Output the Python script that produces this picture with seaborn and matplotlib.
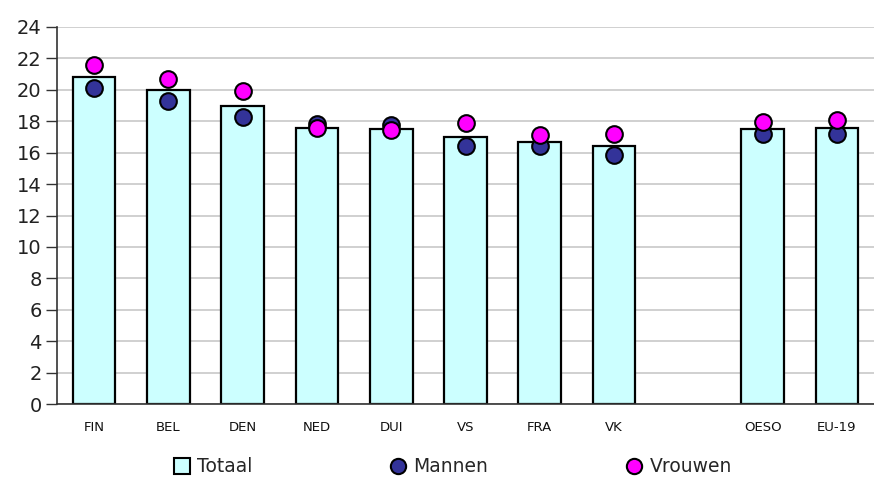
import matplotlib
matplotlib.use("Agg")
import matplotlib.pyplot as plt
from matplotlib.lines import Line2D
import seaborn as sns
import pandas as pd
import numpy as np

categories = ["FIN", "BEL", "DEN", "NED", "DUI", "VS", "FRA", "VK", " ", "OESO", "EU-19"]
totaal  = [20.8, 20.0, 19.0, 17.6, 17.5, 17.0, 16.65, 16.4, np.nan, 17.5, 17.6]
mannen  = [20.1, 19.3, 18.3, 17.85, 17.75, 16.45, 16.45, 15.85, np.nan, 17.2, 17.2]
vrouwen = [21.6, 20.7, 19.9, 17.55, 17.45, 17.9, 17.15, 17.2, np.nan, 17.95, 18.1]

df = pd.DataFrame({"cat": categories, "Totaal": totaal, "Mannen": mannen, "Vrouwen": vrouwen})
dfv = df.dropna()

sns.set_style("white")
plt.rcParams["font.family"] = ["DejaVu Sans"]

fig = plt.figure(figsize=(8.74, 4.82), dpi=100)
ax = fig.add_axes([57 / 874, 78 / 482, 1 - 57 / 874, 377 / 482])

sns.barplot(data=dfv, x="cat", y="Totaal", order=categories, color="#CCFFFF",
            edgecolor="black", linewidth=1.6, width=0.575, saturation=1, ax=ax, zorder=2)
sns.stripplot(data=dfv, x="cat", y="Mannen", order=categories, jitter=False, color="#333399",
              size=12, edgecolor="black", linewidth=1.5, ax=ax, zorder=3)
sns.stripplot(data=dfv, x="cat", y="Vrouwen", order=categories, jitter=False, color="#FF00FF",
              size=12, edgecolor="black", linewidth=1.5, ax=ax, zorder=4)

ax.set_ylim(0, 24)
ax.set_xlim(-0.5, (874 - 94) / 74.9)
ax.set_yticks(range(0, 25, 2))
ax.set_yticklabels([str(v) for v in range(0, 25, 2)], fontsize=14, color="#222222")
ax.yaxis.grid(True, color="#c8c8c8", linewidth=1.2, zorder=0)
ax.set_axisbelow(True)

ax.set_xticks(range(len(categories)))
ax.set_xticklabels(categories, fontsize=9.5, color="#111111")
ax.set_xticks(np.arange(-0.5, len(categories), 1.0), minor=True)
ax.tick_params(axis="x", which="major", length=0, pad=12)
ax.tick_params(axis="x", which="minor", length=5, width=1, color="#333333", direction="out")
ax.tick_params(axis="y", which="major", length=8, width=1, color="#333333", direction="out", left=True, pad=3)
ax.set_xlabel("")
ax.set_ylabel("")

for s in ["top", "right"]:
    ax.spines[s].set_visible(False)
ax.spines["left"].set_color("#333333")
ax.spines["bottom"].set_color("#333333")
ax.spines["left"].set_linewidth(1.2)
ax.spines["bottom"].set_linewidth(1.2)

handles = [
    Line2D([], [], marker="s", linestyle="none", markersize=11, markerfacecolor="#CCFFFF",
           markeredgecolor="black", markeredgewidth=1.5),
    Line2D([], [], marker="o", linestyle="none", markersize=11, markerfacecolor="#333399",
           markeredgecolor="black", markeredgewidth=1.5),
    Line2D([], [], marker="o", linestyle="none", markersize=11, markerfacecolor="#FF00FF",
           markeredgecolor="black", markeredgewidth=1.5),
]
fig.legend(handles, ["Totaal", "Mannen", "Vrouwen"], loc="center", ncol=3,
           bbox_to_anchor=(452 / 874, 1 - 467 / 482), frameon=False, fontsize=13.5,
           handletextpad=0.3, columnspacing=7.3, handlelength=1.0)

fig.savefig("out.png", dpi=100)
